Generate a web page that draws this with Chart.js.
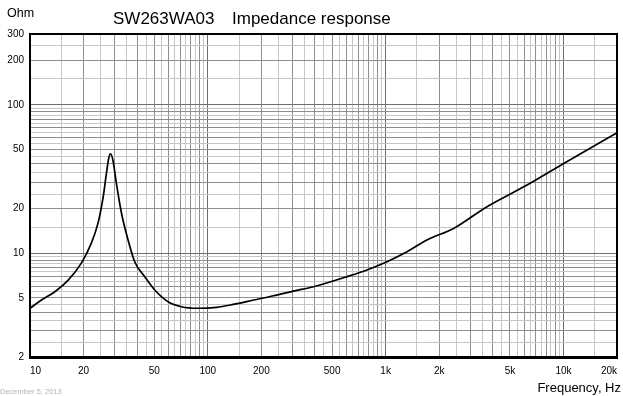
<!DOCTYPE html>
<html>
<head>
<meta charset="utf-8">
<script src="https://cdn.jsdelivr.net/npm/chart.js@4"></script>
<style>
  body { margin: 0; background: #fff; }
  canvas { display: block; }
</style>
</head>
<body>
<canvas id="chart" width="623" height="396"></canvas>
<script>
// impedance curve (Hz, Ohm)
const freq = [10, 11.6, 13.8, 16.4, 19.4, 22.1, 24.1, 25.8, 26.9, 27.7, 28.4, 29.3, 30.6, 32.7, 35.6, 38.8, 44.2, 50.3, 59.8, 71, 88, 112, 139, 181, 234, 303, 393, 605, 785, 1017, 1318, 1708, 2411, 3715, 6238, 10030, 20000];
const imp  = [4.26, 4.84, 5.5, 6.59, 8.55, 11.66, 15.9, 24.0, 34.5, 43.5, 46.8, 42.0, 29.6, 18.6, 12.3, 8.77, 6.95, 5.65, 4.71, 4.36, 4.26, 4.32, 4.52, 4.84, 5.17, 5.56, 5.95, 6.95, 7.71, 8.77, 10.24, 12.3, 14.7, 20.6, 28.8, 40.3, 64.9];

const xLabels = { 10:'10', 20:'20', 50:'50', 100:'100', 200:'200', 500:'500', 1000:'1k', 2000:'2k', 5000:'5k', 10000:'10k', 20000:'20k' };
const yLabels = { 2:'2', 5:'5', 10:'10', 20:'20', 50:'50', 100:'100', 200:'200', 300:'300' };

const FONT = "'Liberation Sans', Arial, sans-serif";

// grid lines at 1, 1.5, 2, 2.5 ... 9.5 of every decade
function gridValues(min, max) {
  const out = [];
  for (let e = Math.floor(Math.log10(min)); e <= Math.ceil(Math.log10(max)); e++) {
    for (let m = 1; m < 10; m += 0.5) {
      const v = Math.round(m * Math.pow(10, e) * 1000) / 1000;
      if (v >= min && v <= max) out.push(v);
    }
  }
  return out;
}

function gridColor(v) {
  const m = v / Math.pow(10, Math.floor(Math.log10(v) + 1e-9));
  if (Math.abs(m - Math.round(m)) > 0.01) return '#c6c6c6';
  if (Math.abs(m - 1) < 0.01) return '#6e6e6e';
  return '#8e8e8e';
}

const frame = {
  id: 'frame',
  afterDraw(chart) {
    const { ctx, chartArea: a } = chart;
    ctx.save();
    ctx.strokeStyle = '#000';
    ctx.lineWidth = 2;
    ctx.strokeRect(a.left, a.top, a.right - a.left, a.bottom - a.top);
    ctx.lineWidth = 3;
    ctx.beginPath();
    ctx.moveTo(a.left - 1, a.bottom + 0.5);
    ctx.lineTo(a.right + 1, a.bottom + 0.5);
    ctx.stroke();

    ctx.fillStyle = '#000';
    ctx.textBaseline = 'alphabetic';
    ctx.textAlign = 'left';
    ctx.font = '12.5px ' + FONT;
    ctx.fillText('Ohm', 7, 17);
    ctx.font = '17px ' + FONT;
    ctx.fillText('SW263WA03', 113, 24);
    ctx.fillText('Impedance response', 232, 24);
    ctx.textAlign = 'right';
    ctx.font = '13px ' + FONT;
    ctx.fillText('Frequency, Hz', 621, 392);
    ctx.textAlign = 'left';
    ctx.fillStyle = '#b4b4b4';
    ctx.font = '7.5px ' + FONT;
    ctx.fillText('December 5, 2013', 0, 394);
    ctx.restore();
  }
};

new Chart(document.getElementById('chart'), {
  type: 'line',
  data: {
    datasets: [{
      data: freq.map((f, i) => ({ x: f, y: imp[i] })),
      borderColor: '#000',
      borderWidth: 1.7,
      pointRadius: 0,
      fill: false,
      cubicInterpolationMode: 'monotone'
    }]
  },
  options: {
    responsive: false,
    animation: false,
    layout: { padding: { left: 0, right: 6, top: 34, bottom: 0 }, autoPadding: false },
    plugins: { legend: { display: false }, tooltip: { enabled: false } },
    scales: {
      x: {
        type: 'logarithmic',
        min: 10,
        max: 20000,
        afterBuildTicks: s => { s.ticks = gridValues(10, 20000).map(v => ({ value: v })); },
        afterFit: s => { s.height = 39; s.paddingLeft = 0; s.paddingRight = 0; },
        ticks: {
          autoSkip: false,
          maxRotation: 0,
          align: 'inner',
          padding: 8,
          color: '#000',
          font: { family: FONT, size: 10 },
          callback: v => xLabels[v] || ''
        },
        grid: { color: c => gridColor(c.tick.value), drawTicks: false },
        border: { display: false }
      },
      y: {
        type: 'logarithmic',
        min: 2,
        max: 300,
        afterBuildTicks: s => { s.ticks = gridValues(2, 300).map(v => ({ value: v })); },
        afterFit: s => { s.width = 30; s.paddingTop = 0; s.paddingBottom = 0; },
        ticks: {
          autoSkip: false,
          padding: 6,
          color: '#000',
          font: { family: FONT, size: 10 },
          callback: v => yLabels[v] || ''
        },
        grid: { color: c => gridColor(c.tick.value), drawTicks: false },
        border: { display: false }
      }
    }
  },
  plugins: [frame]
});
</script>
</body>
</html>
